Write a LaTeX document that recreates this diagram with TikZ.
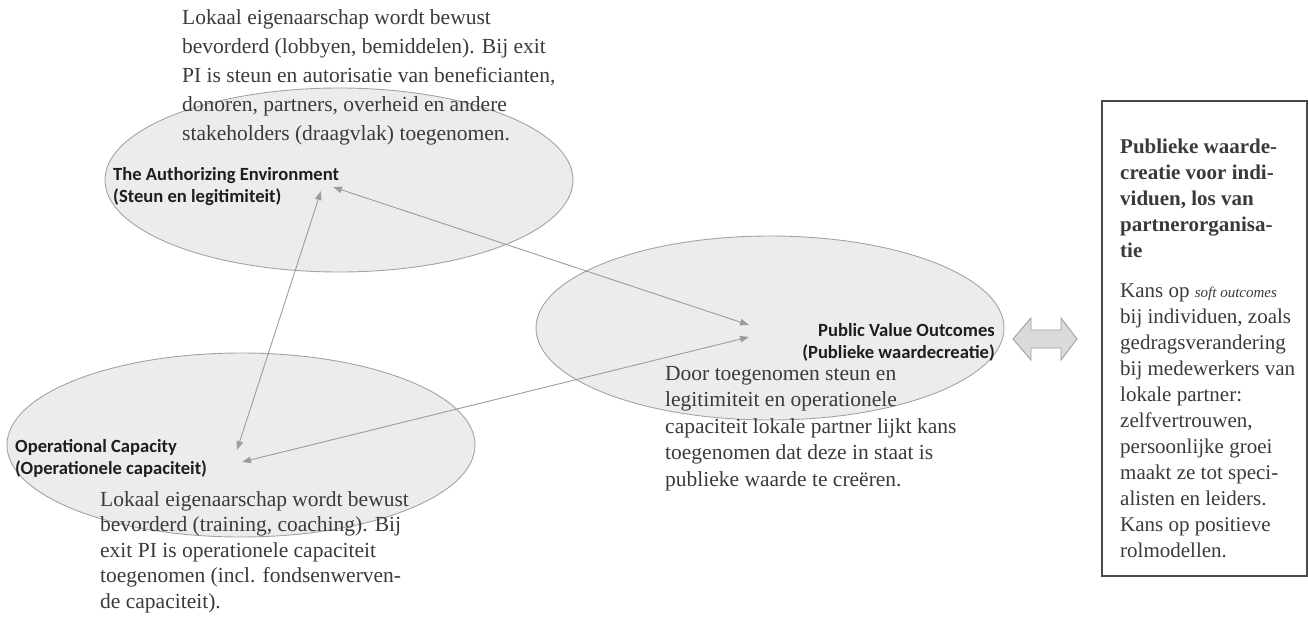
\documentclass[tikz,border=0pt]{standalone}
\usepackage{fontspec}
\setmainfont{Liberation Serif}
\newfontfamily\labelfont{Carlito}
\usetikzlibrary{arrows.meta,shapes.geometric}

\definecolor{ellfill}{HTML}{ECECEC}
\definecolor{elldraw}{HTML}{A3A3A3}
\definecolor{linkgray}{HTML}{9C9C9C}
\definecolor{bodytext}{HTML}{3A3A3A}
\definecolor{labeltext}{HTML}{1E1E1E}
\definecolor{boxframe}{HTML}{4A4A4A}
\definecolor{dblfill}{HTML}{DADADA}
\definecolor{dbldraw}{HTML}{A0A0A0}

\begin{document}
\begin{tikzpicture}[x=1pt,y=-1pt,
  zone/.style={ellipse, draw=elldraw, fill=ellfill, line width=0.9pt,
    minimum width=468pt, minimum height=184pt, inner sep=0pt},
  zonelabel/.style={font=\labelfont\bfseries\fontsize{18.6}{22}\selectfont,
    text=labeltext, inner sep=0pt},
  note/.style={align=left, inner sep=0pt, text=bodytext},
  link/.style={draw=linkgray, line width=0.9pt,
    {Triangle[length=9pt,width=6.5pt]}-{Triangle[length=9pt,width=6.5pt]}},
  outbox/.style={draw=boxframe, line width=1.6pt, minimum width=205pt,
    minimum height=475pt, inner sep=0pt}]
\useasboundingbox (0,0) rectangle (1308,618);

% the three ellipses
\node[zone] (auth) at (339,180) {};
\node[zone] (pvo)  at (770,328) {};
\node[zone] (ops)  at (241,445) {};

% end points of the links inside the ellipses
\coordinate (authA) at (321,191);
\coordinate (authB) at (333,187);
\coordinate (pvoA)  at (749,325);
\coordinate (pvoB)  at (749,337);
\coordinate (opsA)  at (237,450);
\coordinate (opsB)  at (242,462);

\draw[link] (authA) -- (opsA);
\draw[link] (authB) -- (pvoA);
\draw[link] (opsB) -- (pvoB);

% ellipse titles (anchored on the baseline of their last line)
\node[zonelabel, align=left, anchor=base west] (authlab) at (113,202)
  {The Authorizing Environment\\(Steun en legitimiteit)};
\node[zonelabel, align=left, anchor=base west] (opslab) at (15,474)
  {Operational Capacity\\(Operationele capaciteit)};
\node[zonelabel, align=right, anchor=base east] (pvolab) at (995,358)
  {Public Value Outcomes\\(Publieke waardecreatie)};

% explanatory notes (anchored on the baseline of their last line)
\node[note, anchor=base west, font=\fontsize{21.5}{29}\selectfont] (authnote) at (182,140)
  {Lokaal eigenaarschap wordt bewust\\
   bevorderd (lobbyen, bemiddelen). Bij exit\\
   PI is steun en autorisatie van beneficianten,\\
   donoren, partners, overheid en andere\\
   stakeholders (draagvlak) toegenomen.};
\node[note, anchor=base west, font=\fontsize{21.5}{25.5}\selectfont] (opsnote) at (100,608)
  {Lokaal eigenaarschap wordt bewust\\
   bevorderd (training, coaching). Bij\\
   exit PI is operationele capaciteit\\
   toegenomen (incl. fondsenwerven-\\
   de capaciteit).};
\node[note, anchor=base west, font=\fontsize{21.5}{26.5}\selectfont] (pvonote) at (665,486)
  {Door toegenomen steun en\\
   legitimiteit en operationele\\
   capaciteit lokale partner lijkt kans\\
   toegenomen dat deze in staat is\\
   publieke waarde te creëren.};

% double arrow towards the box
\draw[draw=dbldraw, fill=dblfill, line width=0.9pt, line join=miter]
  (1013,339) -- (1031,318) -- (1031,330) -- (1061,330) -- (1061,318)
  -- (1077,339) -- (1061,360) -- (1061,348) -- (1031,348) -- (1031,360) -- cycle;

% framed box on the right
\node[outbox, anchor=north west] (pvbox) at (1101,100) {};
\node[note, anchor=base west, font=\fontsize{21}{26}\selectfont] (pvboxtext) at (1120,557)
  {\textbf{Publieke waarde-}\\
   \textbf{creatie voor indi-}\\
   \textbf{viduen, los van}\\
   \textbf{partnerorganisa-}\\
   \textbf{tie}\\[14pt]
   Kans op {\itshape\fontsize{15}{26}\selectfont soft outcomes}\\
   bij individuen, zoals\\
   gedragsverandering\\
   bij medewerkers van\\
   lokale partner:\\
   zelfvertrouwen,\\
   persoonlijke groei\\
   maakt ze tot speci-\\
   alisten en leiders.\\
   Kans op positieve\\
   rolmodellen.};
\end{tikzpicture}
\end{document}
